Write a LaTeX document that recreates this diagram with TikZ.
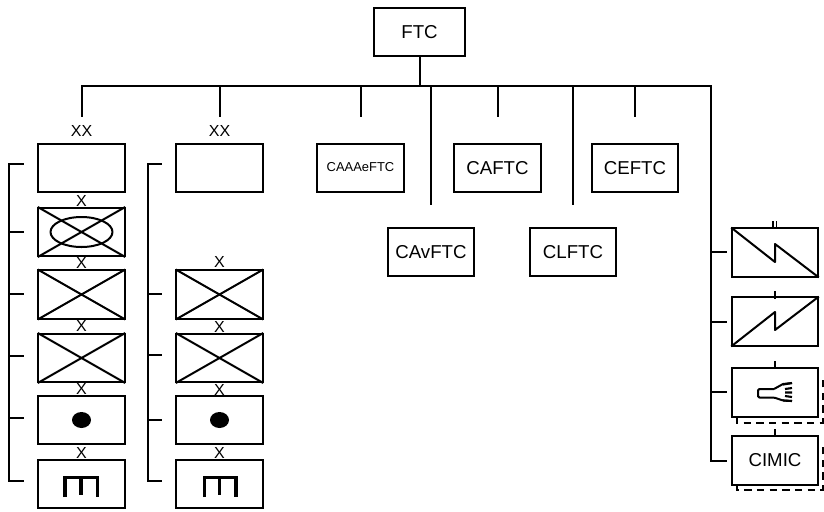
\documentclass[tikz,border=0pt]{standalone}
\usepackage{fontspec}
\setmainfont{Liberation Sans}
\tikzset{
	unit/.style={draw, line width=1.5pt, minimum width=65pt, minimum height=36.5pt, inner sep=0pt, font=\fontsize{14}{14}\selectfont},
	echelon/.style={font=\fontsize{12}{12}\selectfont, inner sep=0pt},
	link/.style={line width=1.5pt, line cap=rect},
	cross/.style={line width=1.5pt, shorten >=0.5pt, shorten <=0.5pt},
	icon/.style={line width=1.5pt, line join=round},
	support/.style={line width=1.5pt, dash pattern=on 5.5pt off 4pt}
}
\begin{document}
\begin{tikzpicture}[x=0.75pt, y=-0.75pt]
\useasboundingbox (0,0) rectangle (824,511);

% Comando
\node[unit, minimum width=68pt] (FTC) at (419.5,32) {FTC};
\coordinate (BL) at (81.5,85.5);
\coordinate (BM) at (419.5,85.5);
\coordinate (BR) at (710.5,85.5);
\draw[link] (FTC) -- (BM);
\draw[link] (BL) -- (BR);

% Componentes
\node[unit, font=\fontsize{9.7}{9.7}\selectfont] (CAAAe) at (360.5,168) {\raisebox{1.5pt}{CAAAeFTC}};
\node[unit] (CAF) at (497.5,168) {CAFTC};
\node[unit] (CEF) at (635,168) {CEFTC};
\node[unit] (CAv) at (431,252) {CAvFTC};
\node[unit] (CLF) at (573,252) {CLFTC};

\foreach \x/\y in {81.5/116, 219.5/116, 360.5/116, 431/204, 497.5/116, 573/204, 635/116} {
	\coordinate (top) at (\x,85.5);
	\coordinate (end) at (\x,\y);
	\draw[link] (top) -- (end);
}

% Coluna esquerda
\foreach \y [count=\i] in {168, 232, 294.5, 358, 420, 484}
	\node[unit] (A\i) at (81.5,\y) {};
\draw[cross] (A2.north west) -- (A2.south east);
\draw[cross] (A2.north east) -- (A2.south west);
\draw[cross] (A3.north west) -- (A3.south east);
\draw[cross] (A3.north east) -- (A3.south west);
\draw[cross] (A4.north west) -- (A4.south east);
\draw[cross] (A4.north east) -- (A4.south west);
\draw[icon] (A2) ellipse (31 and 15);
\fill (A5) ellipse (9.5 and 8);
\draw[line width=2.5pt] (65,497) -- (65,477.5) -- (97.5,477.5) -- (97.5,497);
\draw[line width=2.5pt] (81,477.5) -- (81,495);

\coordinate (A) at (8.5,163.5);
\coordinate (Aend) at (8.5,480.5);
\draw[link] (A) -- (Aend);
\foreach \y in {163.5, 232, 294, 356, 418, 480.5} {
	\coordinate (from) at (8.5,\y);
	\coordinate (to) at (22.5,\y);
	\draw[link] (from) -- (to);
}
\node[echelon] (AXX) at (81.5,130.5) {XX};
\foreach \y [count=\i] in {200.5, 263, 326, 388.5, 452.5}
	\node[echelon] (AX\i) at (81.5,\y) {X};

% Coluna direita
\foreach \y [count=\i] in {168, 294.5, 358, 420, 484}
	\node[unit] (B\i) at (219.5,\y) {};
\draw[cross] (B2.north west) -- (B2.south east);
\draw[cross] (B2.north east) -- (B2.south west);
\draw[cross] (B3.north west) -- (B3.south east);
\draw[cross] (B3.north east) -- (B3.south west);
\fill (B4) ellipse (9.5 and 8);
\draw[line width=2.5pt] (204.5,497) -- (204.5,477.5) -- (236,477.5) -- (236,497);
\draw[line width=2.5pt] (219.5,477.5) -- (219.5,495);

\coordinate (B) at (148,163.5);
\coordinate (Bend) at (148,480.5);
\draw[link] (B) -- (Bend);
\foreach \y in {163.5, 293.5, 355, 420, 480.5} {
	\coordinate (from) at (148,\y);
	\coordinate (to) at (161,\y);
	\draw[link] (from) -- (to);
}
\node[echelon] (BXX) at (219.5,130.5) {XX};
\foreach \y [count=\i] in {262, 327, 390, 453}
	\node[echelon] (BX\i) at (219.5,\y) {X};

% Apoio
\draw[support] (736.5,417) -- (736.5,422.5) -- (822.5,422.5) -- (822.5,376);
\draw[support] (736.5,485) -- (736.5,490) -- (822.5,490) -- (822.5,444);
\foreach \y [count=\i] in {252.5, 321.5, 392.5, 460.5}
	\node[unit, fill=white] (C\i) at (775,\y) {};
\node[font=\fontsize{14}{14}\selectfont] (cimic) at (C4) {CIMIC};
\draw[icon, shorten >=0.5pt, shorten <=0.5pt] (C1.north west) -- (775,262) -- (775,244) -- (C1.south east);
\draw[icon, shorten >=0.5pt, shorten <=0.5pt] (C2.south west) -- (775,312) -- (775,330) -- (C2.north east);

\coordinate (Ctop) at (710.5,85.5);
\coordinate (Cend) at (710.5,460.5);
\draw[link] (Ctop) -- (Cend);
\foreach \y in {252, 322, 392, 460.5} {
	\coordinate (from) at (710.5,\y);
	\coordinate (to) at (726,\y);
	\draw[link] (from) -- (to);
}
\draw[line width=1.2pt] (773,221) -- (773,228) (776.5,221) -- (776.5,228);
\draw[link] (775,292) -- (775,297.5);
\draw[link] (775,362) -- (775,368);
\draw[link] (775,430) -- (775,436);

% Lanterna
\draw[icon, rounded corners=1pt] (774,389) -- (758,389) -- (758,397.5) -- (774,397.5) -- (783,400.5) -- (792,401);
\draw[icon] (774,389) -- (783,384) -- (792,383);
\draw[line width=1.6pt] (783,384.5) -- (792,383) (785,389) -- (792,388) (785,392.5) -- (792,392.5) (785,396) -- (792,397) (783,400.5) -- (792,401);
\end{tikzpicture}
\end{document}
